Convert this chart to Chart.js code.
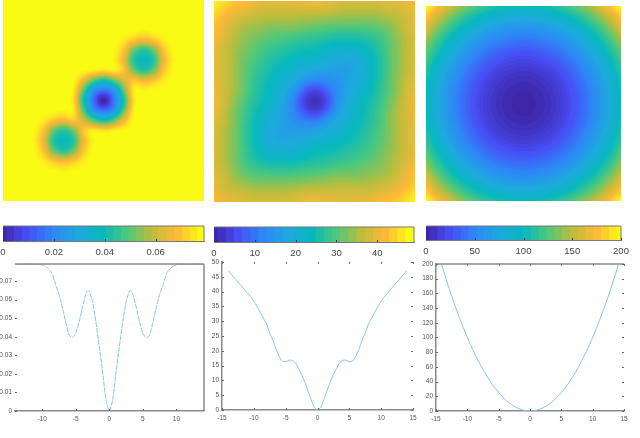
<!DOCTYPE html>
<html>
<head>
<meta charset="utf-8">
<script src="https://cdn.jsdelivr.net/npm/chart.js@4"></script>
<style>
  html, body { margin: 0; padding: 0; background: #fff; }
  #page { position: relative; width: 640px; height: 438px; overflow: hidden; }
  canvas { position: absolute; }
</style>
</head>
<body>
<div id="page"></div>
<script>
// grid positions of the three maps (both axes)
const gridPos = [-14, -12.6, -11.2, -9.8, -8.4, -7, -5.6, -4.2, -2.8, -1.4, 0, 1.4, 2.8, 4.2, 5.6, 7, 8.4, 9.8, 11.2, 12.6, 14];

// left map, values in thousandths, top row first
const heatA = [
  [78,78,78,78,78,78,78,78,78,78,78,78,78,78,78,78,78,78,78,78,78],
  [78,78,78,78,78,78,78,78,78,78,78,78,78,78,78,78,78,78,78,78,78],
  [78,78,78,78,78,78,78,78,78,78,78,78,78,78,78,78,78,78,78,78,78],
  [78,78,78,78,78,78,78,78,78,78,78,78,78,78,77,78,78,78,78,78,78],
  [78,78,78,78,78,78,78,78,78,78,78,78,76,70,66,70,76,78,78,78,78],
  [78,78,78,78,78,78,78,78,78,78,78,78,70,52,44,52,70,78,78,78,78],
  [78,78,78,78,78,78,78,78,78,78,78,77,66,44,40,44,66,77,78,78,78],
  [78,78,78,78,78,78,78,78,78,76,74,76,70,52,44,52,70,78,78,78,78],
  [78,78,78,78,78,78,78,78,66,50,42,50,62,70,66,70,76,78,78,78,78],
  [78,78,78,78,78,78,78,76,50,24,16,24,50,76,77,78,78,78,78,78,78],
  [78,78,78,78,78,78,78,74,42,16,0,16,42,74,78,78,78,78,78,78,78],
  [78,78,78,78,78,78,77,76,50,24,16,24,50,76,78,78,78,78,78,78,78],
  [78,78,78,78,76,70,66,70,62,50,42,50,66,78,78,78,78,78,78,78,78],
  [78,78,78,78,70,52,44,52,70,76,74,76,78,78,78,78,78,78,78,78,78],
  [78,78,78,77,66,44,40,44,66,77,78,78,78,78,78,78,78,78,78,78,78],
  [78,78,78,78,70,52,44,52,70,78,78,78,78,78,78,78,78,78,78,78,78],
  [78,78,78,78,76,70,66,70,76,78,78,78,78,78,78,78,78,78,78,78,78],
  [78,78,78,78,78,78,77,78,78,78,78,78,78,78,78,78,78,78,78,78,78],
  [78,78,78,78,78,78,78,78,78,78,78,78,78,78,78,78,78,78,78,78,78],
  [78,78,78,78,78,78,78,78,78,78,78,78,78,78,78,78,78,78,78,78,78],
  [78,78,78,78,78,78,78,78,78,78,78,78,78,78,78,78,78,78,78,78,78]
];

// middle map
const heatB = [
  [47,45,43,42,41,40,39,39,40,40,41,40,39,38,38,38,38,39,39,40,41],
  [45,42,40,39,37,37,37,37,37,37,37,37,36,35,35,35,35,36,37,37,40],
  [43,40,37,36,35,34,34,34,34,33,33,32,32,32,32,32,32,33,34,37,39],
  [42,39,36,33,33,32,31,31,31,30,29,29,28,28,28,28,29,30,33,36,39],
  [41,37,35,33,31,30,29,28,27,26,26,25,24,24,24,25,26,29,32,35,38],
  [40,37,34,32,30,28,27,26,25,24,24,22,21,20,20,22,25,28,32,35,38],
  [39,37,34,31,29,27,25,24,22,22,21,19,18,17,17,20,24,28,32,35,38],
  [39,37,34,31,28,26,24,22,20,18,17,16,16,15,17,20,24,28,32,35,38],
  [40,37,34,31,27,25,22,20,18,14,11,12,13,16,18,21,24,28,32,36,39],
  [40,37,34,31,27,24,22,18,14,6,2,6,12,16,19,22,25,29,32,36,40],
  [41,37,33,29,26,24,21,17,11,2,0,2,11,17,21,24,26,29,33,37,41],
  [40,36,32,29,25,22,19,16,12,6,2,6,14,18,22,24,27,31,34,37,40],
  [39,36,32,28,24,21,18,16,13,12,11,14,18,20,22,25,27,31,34,37,40],
  [38,35,32,28,24,20,17,15,16,16,17,18,20,22,24,26,28,31,34,37,39],
  [38,35,32,28,24,20,17,17,18,19,21,22,22,24,25,27,29,31,34,37,39],
  [38,35,32,28,25,22,20,20,21,22,24,24,25,26,27,28,30,32,34,37,40],
  [38,35,32,29,26,25,24,24,24,25,26,26,27,28,29,30,31,33,35,37,41],
  [39,36,33,30,29,28,28,28,28,29,29,30,31,31,31,32,33,33,36,39,42],
  [39,37,34,33,32,32,32,32,32,32,33,33,34,34,34,34,35,36,37,40,43],
  [40,37,37,36,35,35,35,35,36,37,37,37,37,37,37,37,37,39,40,42,45],
  [41,40,39,39,38,38,38,38,39,40,41,40,40,39,39,40,41,42,43,45,47]
];

// right map
const heatC = [
  [200,181,164,149,136,125,116,109,104,101,100,101,104,109,116,125,136,149,164,181,200],
  [181,162,145,130,117,106,97,90,85,82,81,82,85,90,97,106,117,130,145,162,181],
  [164,145,128,113,100,89,80,73,68,65,64,65,68,73,80,89,100,113,128,145,164],
  [149,130,113,98,85,74,65,58,53,50,49,50,53,58,65,74,85,98,113,130,149],
  [136,117,100,85,72,61,52,45,40,37,36,37,40,45,52,61,72,85,100,117,136],
  [125,106,89,74,61,50,41,34,29,26,25,26,29,34,41,50,61,74,89,106,125],
  [116,97,80,65,52,41,32,25,20,17,16,17,20,25,32,41,52,65,80,97,116],
  [109,90,73,58,45,34,25,18,13,10,9,10,13,18,25,34,45,58,73,90,109],
  [104,85,68,53,40,29,20,13,8,5,4,5,8,13,20,29,40,53,68,85,104],
  [101,82,65,50,37,26,17,10,5,2,1,2,5,10,17,26,37,50,65,82,101],
  [100,81,64,49,36,25,16,9,4,1,0,1,4,9,16,25,36,49,64,81,100],
  [101,82,65,50,37,26,17,10,5,2,1,2,5,10,17,26,37,50,65,82,101],
  [104,85,68,53,40,29,20,13,8,5,4,5,8,13,20,29,40,53,68,85,104],
  [109,90,73,58,45,34,25,18,13,10,9,10,13,18,25,34,45,58,73,90,109],
  [116,97,80,65,52,41,32,25,20,17,16,17,20,25,32,41,52,65,80,97,116],
  [125,106,89,74,61,50,41,34,29,26,25,26,29,34,41,50,61,74,89,106,125],
  [136,117,100,85,72,61,52,45,40,37,36,37,40,45,52,61,72,85,100,117,136],
  [149,130,113,98,85,74,65,58,53,50,49,50,53,58,65,74,85,98,113,130,149],
  [164,145,128,113,100,89,80,73,68,65,64,65,68,73,80,89,100,113,128,145,164],
  [181,162,145,130,117,106,97,90,85,82,81,82,85,90,97,106,117,130,145,162,181],
  [200,181,164,149,136,125,116,109,104,101,100,101,104,109,116,125,136,149,164,181,200]
];

// colorbar levels
const levelsA = [0, .003, .006, .009, .012, .015, .018, .021, .024, .027, .03, .033, .036, .039, .042, .045, .048, .051, .054, .057, .06, .063, .066, .069, .072, .075, .078];
const levelsB = [0, 2, 4, 6, 8, 10, 12, 14, 16, 18, 20, 22, 24, 26, 28, 30, 32, 34, 36, 38, 40, 42, 44, 46, 48];
const levelsC = [0, 8, 16, 24, 32, 40, 48, 56, 64, 72, 80, 88, 96, 104, 112, 120, 128, 136, 144, 152, 160, 168, 176, 184, 192, 200];

// profiles under the maps
const profileX = [-14, -13, -12, -11, -10.5, -10, -9.5, -9, -8.5, -8, -7.5, -7, -6.5, -6, -5.5, -5, -4.5, -4, -3.5, -3.2, -3, -2.5, -2, -1.5, -1, -.5, 0, .5, 1, 1.5, 2, 2.5, 3, 3.2, 3.5, 4, 4.5, 5, 5.5, 6, 6.5, 7, 7.5, 8, 8.5, 9, 9.5, 10, 10.5, 11, 12, 13, 14];
const profileA = [.079, .079, .079, .079, .079, .0788, .078, .0765, .074, .068, .063, .056, .048, .041, .0395, .042, .048, .056, .063, .065, .0645, .059, .048, .035, .021, .006, 0, .006, .021, .035, .048, .059, .0645, .065, .063, .056, .048, .042, .0395, .041, .048, .056, .063, .068, .074, .0765, .078, .0788, .079, .079, .079, .079, .079];
const profileB = [47, 44.5, 42, 39.5, 38.2, 36.7, 35, 33, 31, 29, 26, 23.5, 20.5, 18, 16.5, 16.3, 16.8, 16.8, 16, 15, 14, 12, 9.5, 6.5, 3.5, .8, 0, .8, 3.5, 6.5, 9.5, 12, 14, 15, 16, 16.8, 16.8, 16.3, 16.5, 18, 20.5, 23.5, 26, 29, 31, 33, 35, 36.7, 38.2, 39.5, 42, 44.5, 47];
const parabolaX = [-14.14, -13, -12, -11, -10, -9, -8, -7, -6, -5, -4, -3, -2, -1, 0, 1, 2, 3, 4, 5, 6, 7, 8, 9, 10, 11, 12, 13, 14.14];
const parabolaY = [200, 169, 144, 121, 100, 81, 64, 49, 36, 25, 16, 9, 4, 1, 0, 1, 4, 9, 16, 25, 36, 49, 64, 81, 100, 121, 144, 169, 200];

const ticksXProfile = [-10, -5, 0, 5, 10];
const ticksXWide = [-15, -10, -5, 0, 5, 10, 15];
const ticksYA = [0, .01, .02, .03, .04, .05, .06, .07];
const ticksYB = [0, 5, 10, 15, 20, 25, 30, 35, 40, 45, 50];
const ticksYC = [0, 20, 40, 60, 80, 100, 120, 140, 160, 180, 200];

const PARULA = [
  [0, 62, 38, 168], [.125, 71, 78, 245], [.25, 46, 135, 247], [.375, 30, 168, 222],
  [.5, 6, 184, 190], [.625, 75, 200, 125], [.75, 188, 189, 60], [.875, 254, 184, 56], [1, 249, 251, 21]
];

function parula(t) {
  t = Math.max(0, Math.min(1, t));
  for (let k = 1; k < PARULA.length; k++) {
    if (t <= PARULA[k][0]) {
      const a = PARULA[k - 1], b = PARULA[k];
      const f = (t - a[0]) / (b[0] - a[0]);
      return [1, 2, 3].map(c => Math.round(a[c] + (b[c] - a[c]) * f));
    }
  }
  return PARULA[PARULA.length - 1].slice(1);
}

// cubic resampling so the map shows as a smooth image like the original
function cubic(a, b, c, d, f) {
  return b + .5 * f * (c - a + f * (2 * a - 5 * b + 4 * c - d + f * (3 * (b - c) + d - a)));
}

// softer kernel for the middle map, its contours have no sharp rings
function bspline(a, b, c, d, f) {
  const g = 1 - f;
  return (g * g * g * a + (3 * f * f * f - 6 * f * f + 4) * b + (-3 * f * f * f + 3 * f * f + 3 * f + 1) * c + f * f * f * d) / 6;
}

function sampleGrid(rows, gx, gy, kernel) {
  const n = rows.length;
  const clamp = k => Math.max(0, Math.min(n - 1, k));
  const i = Math.max(0, Math.min(n - 2, Math.floor(gx))), fx = gx - i;
  const j = Math.max(0, Math.min(n - 2, Math.floor(gy))), fy = gy - j;
  const col = [-1, 0, 1, 2].map(dj => {
    const r = rows[clamp(j + dj)];
    return kernel(r[clamp(i - 1)], r[i], r[i + 1], r[clamp(i + 2)], fx);
  });
  return kernel(col[0], col[1], col[2], col[3], fy);
}

// paints a value grid into the plot area, positioned by the chart's scales
const heatPlugin = {
  id: 'heat',
  beforeDatasetsDraw(chart) {
    const ds = chart.data.datasets[0];
    if (!ds.grid) return;
    const { x, y } = chart.scales;
    const a = chart.chartArea;
    const w = Math.round(a.right - a.left), h = Math.round(a.bottom - a.top);
    const img = chart.ctx.createImageData(w, h);
    const step = gridPos[1] - gridPos[0];
    for (let py = 0; py < h; py++) {
      const gy = (gridPos[gridPos.length - 1] - y.getValueForPixel(a.top + py + .5)) / step;
      for (let px = 0; px < w; px++) {
        const gx = (x.getValueForPixel(a.left + px + .5) - gridPos[0]) / step;
        const t = sampleGrid(ds.grid, gx, gy, ds.kernel) / ds.vmax;
        const c = parula(Math.round(t * 63) / 63), p = (py * w + px) * 4;
        img.data[p] = c[0]; img.data[p + 1] = c[1]; img.data[p + 2] = c[2]; img.data[p + 3] = 255;
      }
    }
    chart.ctx.putImageData(img, a.left, a.top);
  }
};

// inward tick marks and the extra box sides
const frame = {
  id: 'frame',
  afterDraw(chart, args, opts) {
    if (!opts.on) return;
    const { ctx, chartArea: a, scales } = chart;
    ctx.save();
    ctx.strokeStyle = opts.color;
    ctx.lineWidth = opts.width;
    const line = (x0, y0, x1, y1) => { ctx.beginPath(); ctx.moveTo(x0, y0); ctx.lineTo(x1, y1); ctx.stroke(); };
    if (opts.top) line(a.left, a.top, a.right, a.top);
    if (opts.right) line(a.right, a.top, a.right, a.bottom);
    ctx.lineWidth = 1;
    ctx.strokeStyle = opts.tickColor;
    scales.x.ticks.forEach((t, i) => {
      const p = Math.round(scales.x.getPixelForTick(i)) + .5;
      line(p, a.bottom, p, a.bottom - 2);
      if (opts.mirror) line(p, a.top, p, a.top + 2);
    });
    if (opts.yTicks) scales.y.ticks.forEach((t, i) => {
      const p = Math.round(scales.y.getPixelForTick(i)) + .5;
      line(a.left, p, a.left + 2, p);
      if (opts.mirror) line(a.right, p, a.right - 2, p);
    });
    ctx.restore();
  }
};
Chart.register(heatPlugin, frame);

const page = document.getElementById('page');

// plot area is placed exactly: margins are given around the box
function place(box, m) {
  const c = document.createElement('canvas');
  c.width = box.w + m.l + m.r;
  c.height = box.h + m.t + m.b;
  c.style.left = (box.x - m.l) + 'px';
  c.style.top = (box.y - m.t) + 'px';
  page.appendChild(c);
  return c.getContext('2d');
}

function base() {
  return { responsive: false, animation: false, events: [] };
}

function drawMap(box, grid, vmax, kernel) {
  const ctx = place(box, { l: 0, r: 0, t: 0, b: 0 });
  const opt = base();
  opt.layout = { padding: 0 };
  opt.plugins = { legend: { display: false }, tooltip: { enabled: false } };
  opt.scales = {
    x: { type: 'linear', display: false, min: -14, max: 14 },
    y: { type: 'linear', display: false, min: -14, max: 14 }
  };
  new Chart(ctx, { type: 'scatter', data: { datasets: [{ data: [], grid: grid, vmax: vmax, kernel: kernel }] }, options: opt });
}

function drawBar(box, levels, axisMax, tickVals) {
  const m = { l: 14, r: 14, t: 1, b: 20 };
  const ctx = place(box, m);
  const opt = base();
  opt.layout = { padding: { left: m.l, right: m.r, top: m.t, bottom: 0 } };
  opt.plugins = { legend: { display: false }, tooltip: { enabled: false },
    frame: { on: true, top: true, right: true, color: '#777', width: 1, tickColor: '#333' } };
  opt.scales = {
    x: {
      type: 'linear', min: 0, max: axisMax, offset: false,
      afterFit(s) { s.height = m.b; },
      afterBuildTicks(s) { s.ticks = tickVals.map(v => ({ value: v })); },
      grid: { display: false, drawTicks: false },
      border: { color: '#777', width: 1 },
      ticks: { padding: 6, maxRotation: 0, autoSkip: false, color: '#444', font: { family: 'Liberation Sans', size: 9.5 },
        callback: v => String(v) }
    },
    y: { display: false, min: 0, max: 1, afterFit(s) { s.width = 0; } }
  };
  new Chart(ctx, {
    type: 'bar',
    data: { datasets: [{
      data: levels.map(v => ({ x: v, y: 1 })),
      backgroundColor: levels.map(v => { const c = parula(v / levels[levels.length - 1]); return `rgb(${c[0]},${c[1]},${c[2]})`; }),
      barPercentage: 1, categoryPercentage: 1, borderWidth: 0
    }] },
    options: opt
  });
}

function drawLine(box, xs, ys, xr, yr, xTicks, yTicks, lineOpts, frameOpts) {
  const m = { l: 16, r: 10, t: 5, b: 16 };
  const ctx = place(box, m);
  const opt = base();
  opt.layout = { padding: { left: 0, right: m.r, top: m.t, bottom: 0 } };
  opt.plugins = { legend: { display: false }, tooltip: { enabled: false },
    frame: Object.assign({ on: true, color: '#8a8a8a', width: 1.5, tickColor: '#666', yTicks: true }, frameOpts) };
  const tickFont = { family: 'Liberation Sans', size: 6.5 };
  opt.scales = {
    x: {
      type: 'linear', min: xr[0], max: xr[1],
      afterFit(s) { s.height = m.b; },
      afterBuildTicks(s) { s.ticks = xTicks.map(v => ({ value: v })); },
      grid: { display: false, drawTicks: false },
      border: { color: '#8a8a8a', width: 1.5 },
      ticks: { padding: 4, maxRotation: 0, autoSkip: false, color: '#555', font: tickFont }
    },
    y: {
      type: 'linear', min: yr[0], max: yr[1],
      afterFit(s) { s.width = m.l; },
      afterBuildTicks(s) { s.ticks = yTicks.map(v => ({ value: v })); },
      grid: { display: false, drawTicks: false },
      border: { color: frameOpts.noLeft ? 'rgba(0,0,0,0)' : '#8a8a8a', width: 1.5 },
      ticks: { padding: 3, autoSkip: false, color: '#555', font: tickFont, callback: v => String(v) }
    }
  };
  new Chart(ctx, {
    type: 'line',
    data: { datasets: [Object.assign({
      data: xs.map((x, i) => ({ x: x, y: ys[i] })),
      borderColor: '#86c3ea', borderWidth: 1, pointRadius: 0, tension: 0.2, fill: false, clip: false
    }, lineOpts)] },
    options: opt
  });
}

drawMap({ x: 3, y: 0, w: 201, h: 201 }, heatA, 78, cubic);
drawMap({ x: 214, y: 1, w: 201, h: 201 }, heatB, 47, bspline);
drawMap({ x: 426, y: 6, w: 195, h: 195 }, heatC, 200, cubic);

drawBar({ x: 3, y: 226, w: 201, h: 15 }, levelsA, .079, [0, .02, .04, .06]);
drawBar({ x: 214, y: 227, w: 200, h: 15 }, levelsB, 49, [0, 10, 20, 30, 40]);
drawBar({ x: 426, y: 226, w: 195, h: 14 }, levelsC, 200, [0, 50, 100, 150, 200]);

drawLine({ x: 15, y: 262, w: 189, h: 149 }, profileX, profileA, [-14.05, 14.1], [0, .0793], ticksXProfile, ticksYA,
  { borderDash: [5, 1] }, { top: true, right: true, noLeft: true });
drawLine({ x: 222, y: 260, w: 191, h: 150 }, profileX, profileB, [-15, 15], [0, 50], ticksXWide, ticksYB,
  {}, { mirror: true });
drawLine({ x: 436, y: 262, w: 188, h: 149 }, parabolaX, parabolaY, [-15, 15], [0, 200], ticksXWide, ticksYC,
  {}, { top: true, mirror: true });
</script>
</body>
</html>
